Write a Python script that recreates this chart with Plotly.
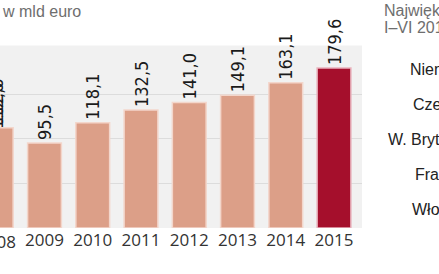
import plotly.graph_objects as go

years = [2008, 2009, 2010, 2011, 2012, 2013, 2014, 2015]
values = [112.6, 95.5, 118.1, 132.5, 141.0, 149.1, 163.1, 179.6]
highlight_year = 2015

title_text = "w mld euro"
panel_title = ["Najwięksi odbiorcy", "I–VI 2015"]
countries = ["Niemcy", "Czechy", "W. Brytania", "Francja", "Włochy"]

W, H = 439, 274
PL, PR, PT, PB = 0, 362, 0, 228  # plot area in pixels
x_range = [2008.078, 2015.58]
y_range = [0, 256]
bg_top = 205  # top of grey panel, in data units

salmon = "#dc9f88"
salmon_line = "#f3d6cb"
dark = "#a50f2c"
dark_line = "#e9b3bd"

colors = [dark if y == highlight_year else salmon for y in years]
lines = [dark_line if y == highlight_year else salmon_line for y in years]

def fmt(v):
    return f"{v:.1f}".replace(".", ",")

label_font = dict(family="Liberation Sans Narrow, DejaVu Sans Condensed, sans-serif",
                  size=18, color="#1a1a1a")

fig = go.Figure()
fig.add_trace(go.Bar(
    x=years, y=values, width=0.7,
    marker=dict(color=colors, line=dict(color=lines, width=1.5), cornerradius=4),
    hoverinfo="skip",
))
# near-invisible holder bars stacked on each bar carry the rotated value labels
fig.add_trace(go.Bar(
    x=years, y=[55] * len(years), base=values, width=0.7,
    marker=dict(color="rgba(241,241,241,0.01)", line=dict(width=0)),
    text=[fmt(v) for v in values], textposition="inside", insidetextanchor="start",
    textangle=-90, constraintext="none",
    textfont=label_font, insidetextfont=label_font,
    hoverinfo="skip",
))

def px_x(p):
    return (p - PL) / (PR - PL)

def px_y(p):
    return (PB - p) / (PB - PT)

ann = []
frac = (years[0] - x_range[0]) / (x_range[1] - x_range[0])
ann.append(dict(text=fmt(values[0]), x=frac, y=values[0], xref="paper", yref="y",
                textangle=-90, xanchor="center", yanchor="middle", yshift=22,
                showarrow=False, font=label_font))
ann.append(dict(text=str(years[0]), x=frac, y=px_y(241), xref="paper", yref="paper",
                xanchor="center", yanchor="middle", showarrow=False,
                font=dict(family="Open Sans, sans-serif", size=17, color="#333333")))
ann.append(dict(text=title_text, x=px_x(0), y=px_y(11), xref="paper", yref="paper",
                xanchor="left", yanchor="middle", showarrow=False,
                font=dict(family="Liberation Sans, sans-serif", size=16, color="#6e6e6e")))
for t, yy in zip(panel_title, [10, 27]):
    ann.append(dict(text=t, x=px_x(382), y=px_y(yy), xref="paper", yref="paper",
                    xanchor="left", yanchor="middle", showarrow=False,
                    font=dict(family="Liberation Sans, sans-serif", size=16, color="#6e6e6e")))
country_x = [408, 411, 386, 413, 410]
country_y = [70, 104, 139, 174, 209]
for c, cx, cy in zip(countries, country_x, country_y):
    ann.append(dict(text=c, x=px_x(cx), y=px_y(cy), xref="paper", yref="paper",
                    xanchor="left", yanchor="middle", showarrow=False,
                    font=dict(family="Liberation Sans, sans-serif", size=16, color="#222222")))

fig.update_layout(
    width=W, height=H,
    margin=dict(l=PL, r=W - PR, t=PT, b=H - PB, pad=0),
    paper_bgcolor="white", plot_bgcolor="white",
    barmode="overlay",
    showlegend=False,
    annotations=ann,
    shapes=[dict(type="rect", xref="paper", yref="y", x0=0, x1=1, y0=0, y1=bg_top,
                 fillcolor="#f1f1f1", line=dict(width=0), layer="below")],
    xaxis=dict(range=x_range, tickmode="array", tickvals=years, ticktext=[str(y) for y in years],
               showgrid=False, zeroline=False, showline=False, ticks="",
               tickfont=dict(family="Open Sans, sans-serif", size=17, color="#333333"),
               fixedrange=True),
    yaxis=dict(range=y_range, tickvals=[50, 100, 150], showticklabels=False,
               gridcolor="#dcdcdc", gridwidth=1, zeroline=False, showline=False,
               fixedrange=True),
)

fig.write_html("out.html", config={"displayModeBar": False})
